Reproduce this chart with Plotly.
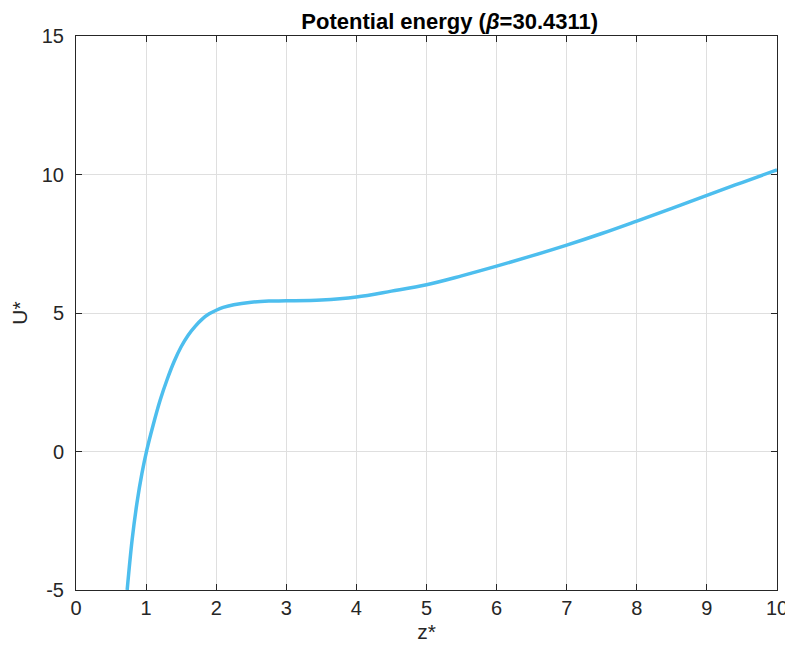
import plotly.graph_objects as go

z_vals = [0.73, 0.80, 0.87, 0.94, 1.01, 1.10, 1.20, 1.30, 1.40, 1.50, 1.60, 1.70, 1.80, 1.90,
          2.00, 2.10, 2.25, 2.50, 2.75, 3.00, 3.50, 4.00, 4.50, 5.00, 5.50, 6.00, 6.50,
          7.00, 7.50, 8.00, 8.50, 9.00, 9.50, 10.0]
u_vals = [-5.0, -3.2, -1.85, -0.8, 0.05, 0.95, 1.85, 2.6, 3.25, 3.78, 4.2, 4.52, 4.78, 4.97,
          5.1, 5.2, 5.3, 5.39, 5.43, 5.44, 5.47, 5.58, 5.79, 6.02, 6.34, 6.69, 7.06,
          7.45, 7.87, 8.32, 8.78, 9.25, 9.71, 10.17]

x_ticks = [0, 1, 2, 3, 4, 5, 6, 7, 8, 9, 10]
x_ticklabels = ["0", "1", "2", "3", "4", "5", "6", "7", "8", "9", "10"]
y_ticks = [-5, 0, 5, 10, 15]
y_ticklabels = ["-5", "0", "5", "10", "15"]

FONT = "Liberation Sans, Arial, Helvetica, sans-serif"

fig = go.Figure()
fig.add_trace(go.Scatter(x=z_vals, y=u_vals, mode="lines",
                         line=dict(color="#4DBEEE", width=3.5, shape="spline", smoothing=1.0),
                         showlegend=False, hoverinfo="skip", cliponaxis=True))

axis_common = dict(
    showline=True, linecolor="#262626", linewidth=1, mirror="ticks",
    ticks="inside", ticklen=6, tickcolor="#262626", tickwidth=1,
    showgrid=True, gridcolor="#dfdfdf", gridwidth=1, zeroline=False,
    automargin=False,
    tickfont=dict(family=FONT, size=20, color="#262626"),
)

W, H = 785, 642
ML, MR, MT, MB = 67.5, 15.5, 27.5, 60

fig.update_layout(
    width=W, height=H,
    margin=dict(l=ML, r=MR, t=MT, b=MB, pad=0),
    paper_bgcolor="white", plot_bgcolor="white",
    title=dict(text="<b>Potential energy (<i>β</i>=30.4311)</b>",
               x=(ML + (W - ML - MR) / 2) / W, xref="paper", xanchor="center",
               y=1 - 13 / H, yanchor="middle",
               font=dict(family=FONT, size=22, color="black")),
    xaxis=dict(range=[0, 10], tickvals=x_ticks, ticktext=x_ticklabels,
               title=dict(text="z*", standoff=6,
                          font=dict(family=FONT, size=21, color="#262626")),
               ticklabelstandoff=0, **axis_common),
    yaxis=dict(range=[-5, 15], tickvals=y_ticks, ticktext=y_ticklabels,
               title=dict(text="U*", standoff=12,
                          font=dict(family=FONT, size=21, color="#262626")),
               ticklabelstandoff=7, **axis_common),
)

fig.write_html("out.html")
